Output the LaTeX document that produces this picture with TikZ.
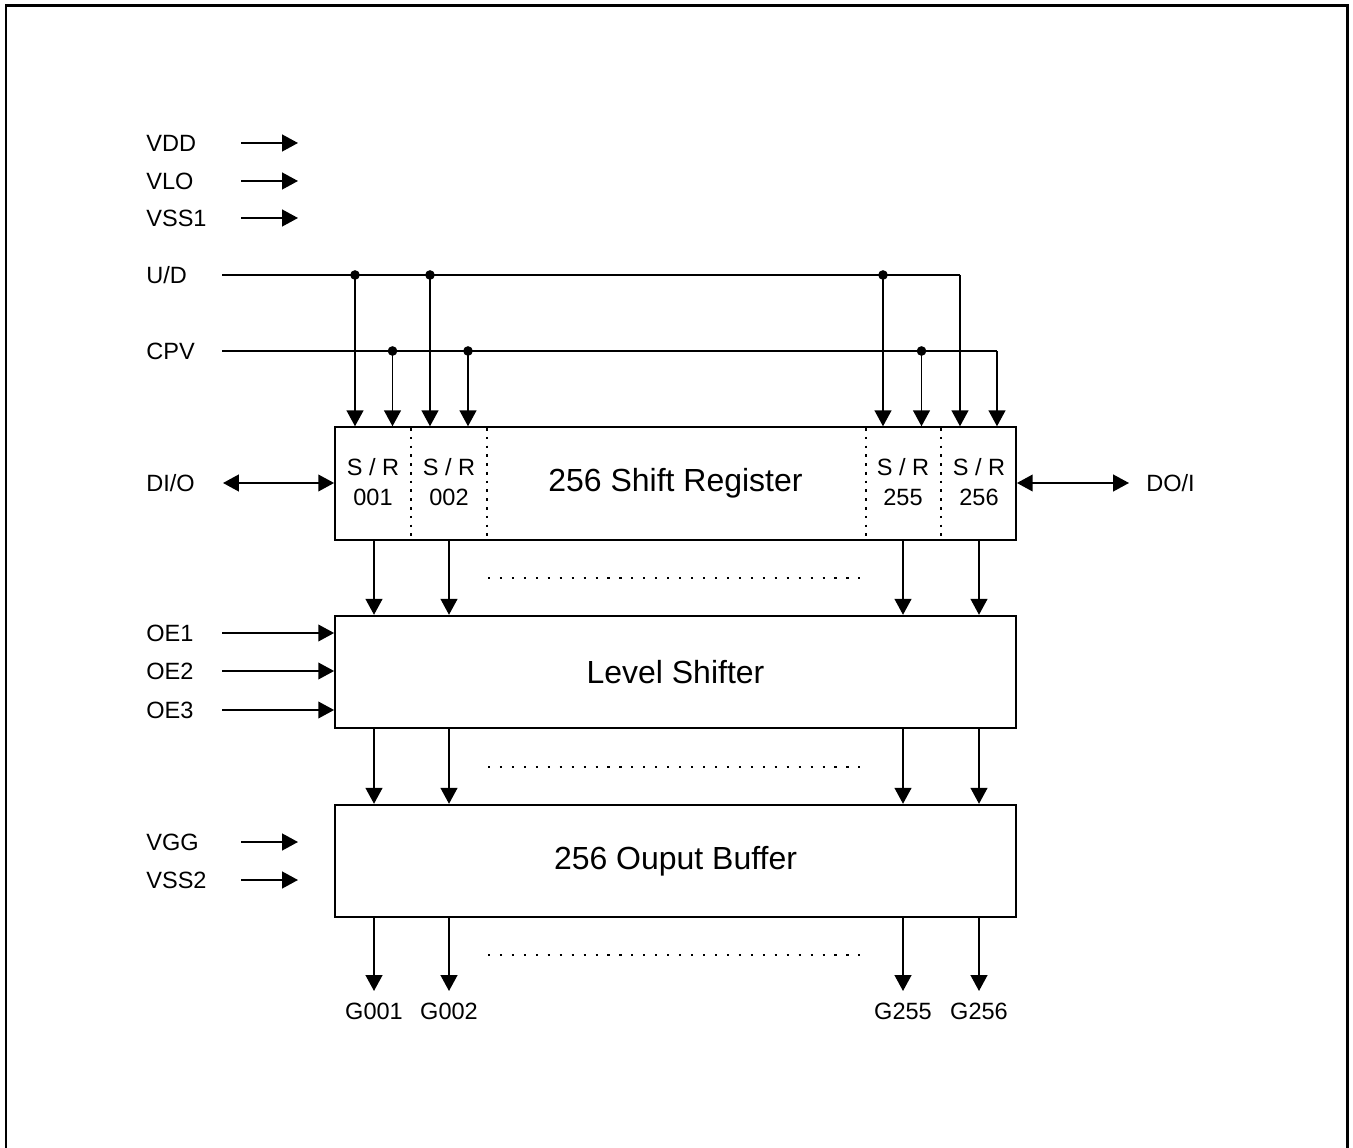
\documentclass[tikz,border=0pt]{standalone}
\usepackage{fontspec}
\setmainfont{Liberation Sans}
\usetikzlibrary{arrows.meta}
\begin{document}
\begin{tikzpicture}[x=0.02cm,y=-0.02cm,
  lab/.style={inner sep=0pt,anchor=west,font=\fontsize{13.4}{15}\selectfont},
  blk/.style={draw,line width=1.1pt,minimum width=13.62cm,minimum height=2.25cm,inner sep=0pt,font=\fontsize{18.2}{22}\selectfont},
  srl/.style={inner sep=0pt,align=center,font=\fontsize{13.4}{17}\selectfont},
  arr/.style={line width=1pt,-{Triangle[length=9pt,width=9.5pt]}},
  darr/.style={line width=1pt,{Triangle[length=9pt,width=9.5pt]}-{Triangle[length=9pt,width=9.5pt]}},
  wire/.style={line width=1pt},
  sep/.style={line width=0.9pt,dash pattern=on 1.5pt off 3.5pt},
  gap/.style={line width=0.9pt,dash pattern=on 1.2pt off 5.6pt},
  dot/.style={circle,fill,inner sep=0pt,minimum size=5.5pt}]
\useasboundingbox (0,0) rectangle (1353,1148);
\draw[line width=1.7pt] (6,1150) -- (6,6) -- (1347,6) -- (1347,1150);

% blocks
\node[blk] (sr) at (675.5,483.5) {256 Shift Register};
\node[blk] (ls) at (675.5,672) {Level Shifter};
\node[blk] (ob) at (675.5,861) {256 Ouput Buffer};

% separators in shift register
\foreach \x/\n in {411/a,487/b,866/c,941/d}{
  \coordinate (s\n) at (\x,428);
  \draw[sep] (s\n) -- (s\n |- sr.south);
}
\node[srl] (r1) at (373,482) {S / R\\001};
\node[srl] (r2) at (449,482) {S / R\\002};
\node[srl] (r3) at (903,482) {S / R\\255};
\node[srl] (r4) at (979,482) {S / R\\256};

% supply labels
\node[lab] (vdd) at (146,143) {VDD};
\node[lab] (vlo) at (146,181) {VLO};
\node[lab] (vss1) at (146,218) {VSS1};
\foreach \n/\y in {vdd/143,vlo/181,vss1/218}{
  \coordinate (\n a) at (241,\y);
  \coordinate (\n b) at (298,\y);
  \draw[arr] (\n a) -- (\n b);
}

% U/D and CPV
\node[lab] (ud) at (146,275) {U/D};
\node[lab] (cpv) at (146,351) {CPV};
\coordinate (uds) at (222,275);
\coordinate (udc) at (960,275);
\coordinate (cps) at (222,351);
\coordinate (cpc) at (997,351);
\draw[wire] (uds) -- (udc);
\draw[wire] (cps) -- (cpc);
\foreach \x/\n in {355/1,430/2,883/3}{
  \coordinate (u\n) at (\x,275);
  \draw[arr] (u\n) -- (u\n |- sr.north);
  \node[dot] (du\n) at (u\n) {};
}
\draw[arr] (udc) -- (udc |- sr.north);
\foreach \x/\n in {392.5/1,468/2,921.5/3}{
  \coordinate (c\n) at (\x,351);
  \draw[arr] (c\n) -- (c\n |- sr.north);
  \node[dot] (dc\n) at (c\n) {};
}
\draw[arr] (cpc) -- (cpc |- sr.north);

% DI/O, DO/I
\node[lab] (dio) at (146,483) {DI/O};
\coordinate (dioa) at (223,483);
\draw[darr] (dioa) -- (dioa -| sr.west);
\node[lab] (doi) at (1146,483) {DO/I};
\coordinate (doia) at (1129,483);
\draw[darr] (doia -| sr.east) -- (doia);

% columns between blocks
\foreach \x/\n in {374/1,449/2,903/3,979/4}{
  \coordinate (k\n) at (\x,540);
  \draw[arr] (k\n |- sr.south) -- (k\n |- ls.north);
  \draw[arr] (k\n |- ls.south) -- (k\n |- ob.north);
}
\foreach \y/\n in {578/a,767/b,955/c}{
  \coordinate (g\n) at (488,\y);
  \coordinate (h\n) at (860,\y);
  \draw[gap] (g\n) -- (h\n);
}

% OE inputs
\foreach \t/\y/\n in {OE1/633/1,OE2/671/2,OE3/710/3}{
  \node[lab] (oe\n) at (146,\y) {\t};
  \coordinate (oea\n) at (222,\y);
  \draw[arr] (oea\n) -- (oea\n -| ls.west);
}

% VGG / VSS2
\node[lab] (vgg) at (146,842) {VGG};
\node[lab] (vss2) at (146,880) {VSS2};
\foreach \n/\y in {vgg/842,vss2/880}{
  \coordinate (\n a) at (241,\y);
  \coordinate (\n b) at (298,\y);
  \draw[arr] (\n a) -- (\n b);
}

% outputs
\foreach \x/\t/\n in {374/G001/1,449/G002/2,903/G255/3,979/G256/4}{
  \node[inner sep=0pt,font=\fontsize{13.4}{15}\selectfont] (o\n) at (\x,1011) {\t};
  \coordinate (oo\n) at (\x,991);
  \draw[arr] (oo\n |- ob.south) -- (oo\n);
}
\end{tikzpicture}
\end{document}
